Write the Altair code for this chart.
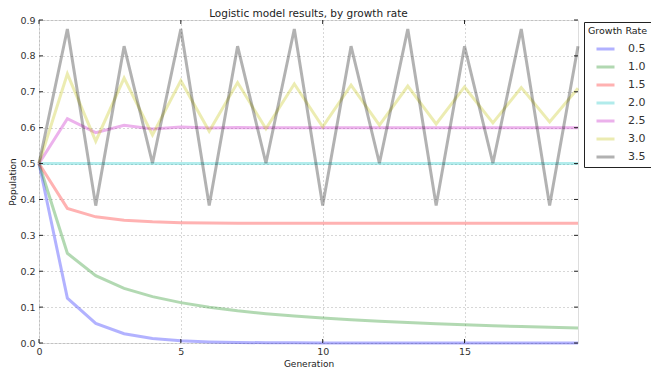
import altair as alt
import pandas as pd

generations = list(range(20))
rates = ["0.5", "1.0", "1.5", "2.0", "2.5", "3.0", "3.5"]
pop_05 = [0.5, 0.125, 0.05469, 0.02585, 0.01259, 0.00622, 0.00309, 0.00154, 0.00077, 0.00038,
          0.00019, 0.0001, 0.00005, 0.00002, 0.00001, 0.00001, 0.0, 0.0, 0.0, 0.0]
pop_10 = [0.5, 0.25, 0.1875, 0.15234, 0.12913, 0.11246, 0.09981, 0.08985, 0.08178, 0.07509,
          0.06945, 0.06463, 0.06045, 0.0568, 0.05357, 0.0507, 0.04813, 0.04581, 0.04371, 0.0418]
pop_15 = [0.5, 0.375, 0.35156, 0.34195, 0.33753, 0.3354, 0.33436, 0.33384, 0.33359, 0.33346,
          0.3334, 0.33337, 0.33335, 0.33334, 0.33334, 0.33333, 0.33333, 0.33333, 0.33333, 0.33333]
pop_20 = [0.5] * 20
pop_25 = [0.5, 0.625, 0.58594, 0.60654, 0.59662, 0.60166, 0.59916, 0.60042, 0.59979, 0.6001,
          0.59995, 0.60003, 0.59999, 0.60001, 0.6, 0.6, 0.6, 0.6, 0.6, 0.6]
pop_30 = [0.5, 0.75, 0.5625, 0.73828, 0.57967, 0.73096, 0.58998, 0.72571, 0.59716, 0.72168,
          0.60258, 0.71842, 0.60688, 0.71574, 0.61037, 0.71345, 0.61331, 0.71149, 0.61581, 0.70976]
pop_35 = [0.5, 0.875, 0.38281, 0.82693, 0.5009, 0.875, 0.38282, 0.82694, 0.50088, 0.875,
          0.38282, 0.82694, 0.50088, 0.875, 0.38282, 0.82694, 0.50088, 0.875, 0.38282, 0.82694]
series = [pop_05, pop_10, pop_15, pop_20, pop_25, pop_30, pop_35]
colors = ["#0000ff", "#008000", "#ff0000", "#00bfbf", "#bf00bf", "#bfbf00", "#000000"]
x_ticks = [0, 5, 10, 15]
y_ticks = [0.0, 0.1, 0.2, 0.3, 0.4, 0.5, 0.6, 0.7, 0.8, 0.9]

rows = []
for r, vals in zip(rates, series):
    for g, v in zip(generations, vals):
        rows.append({"Generation": g, "Growth Rate": r, "Population": v})
df = pd.DataFrame(rows)

W, H = 539, 323
FONT = "DejaVu Sans"

xscale = alt.Scale(domain=[0, 19], nice=False, zero=False)
yscale = alt.Scale(domain=[0, 0.9], nice=False)

xaxis = alt.Axis(values=x_ticks, title="Generation", grid=True, gridDash=[1, 3],
                 gridColor="#9a9a9a", gridWidth=0.8, domain=False, ticks=False,
                 labelPadding=3, labelFontSize=9.5, titleFontSize=9, titlePadding=4,
                 titleFontWeight="normal", labelColor="#333", titleColor="#222",
                 labelFont=FONT, titleFont=FONT, format="d", labelOverlap=False,
                 labelFlush=False)
yaxis = alt.Axis(values=y_ticks, title="Population", grid=True, gridDash=[1, 3],
                 gridColor="#9a9a9a", gridWidth=0.8, domain=False, ticks=False,
                 labelPadding=4, labelFontSize=9.5, titleFontSize=9, titlePadding=2,
                 titleFontWeight="normal", labelColor="#333", titleColor="#222",
                 labelFont=FONT, titleFont=FONT, format=".1f", labelOverlap=False,
                 labelFlush=False)

lines = alt.Chart(df).mark_line(strokeWidth=3, strokeOpacity=0.3).encode(
    x=alt.X("Generation:Q", scale=xscale, axis=xaxis),
    y=alt.Y("Population:Q", scale=yscale, axis=yaxis),
    color=alt.Color("Growth Rate:N", scale=alt.Scale(domain=rates, range=colors),
                    legend=alt.Legend(orient="none", legendX=545, legendY=2,
                                      strokeColor="#222", padding=4, symbolType="stroke",
                                      symbolSize=324, symbolStrokeWidth=3, symbolOpacity=0.3,
                                      symbolOffset=7,
                                      labelFontSize=11, titleFontSize=9.5, titleFontWeight="normal",
                                      titleFont=FONT, labelFont=FONT, rowPadding=1,
                                      labelOffset=12, titlePadding=3, labelColor="#333",
                                      titleColor="#222")),
)

xt = pd.DataFrame({"Generation": x_ticks})
yt = pd.DataFrame({"Population": y_ticks})
tick_bottom = alt.Chart(xt).mark_rule(color="#222", strokeWidth=1).encode(
    x=alt.X("Generation:Q", scale=xscale, axis=xaxis), y=alt.value(H), y2=alt.value(H - 4))
tick_top = alt.Chart(xt).mark_rule(color="#222", strokeWidth=1).encode(
    x=alt.X("Generation:Q", scale=xscale, axis=xaxis), y=alt.value(0), y2=alt.value(4))
tick_left = alt.Chart(yt).mark_rule(color="#222", strokeWidth=1).encode(
    y=alt.Y("Population:Q", scale=yscale, axis=yaxis), x=alt.value(0), x2=alt.value(4))
tick_right = alt.Chart(yt).mark_rule(color="#222", strokeWidth=1).encode(
    y=alt.Y("Population:Q", scale=yscale, axis=yaxis), x=alt.value(W), x2=alt.value(W - 4))

chart = alt.layer(lines, tick_bottom, tick_top, tick_left, tick_right).properties(
    width=W, height=H,
    title=alt.TitleParams("Logistic model results, by growth rate", fontSize=10.5,
                          fontWeight="normal", font=FONT, offset=0, dy=4, color="#222"),
    autosize=alt.AutoSizeParams(type="none"),
    padding={"left": 31, "top": 12, "right": 73, "bottom": 28},
).configure_view(stroke="#222", strokeWidth=1.2).configure(background="white")

chart.save("out.html", embed_options={"renderer": "svg", "actions": False})
